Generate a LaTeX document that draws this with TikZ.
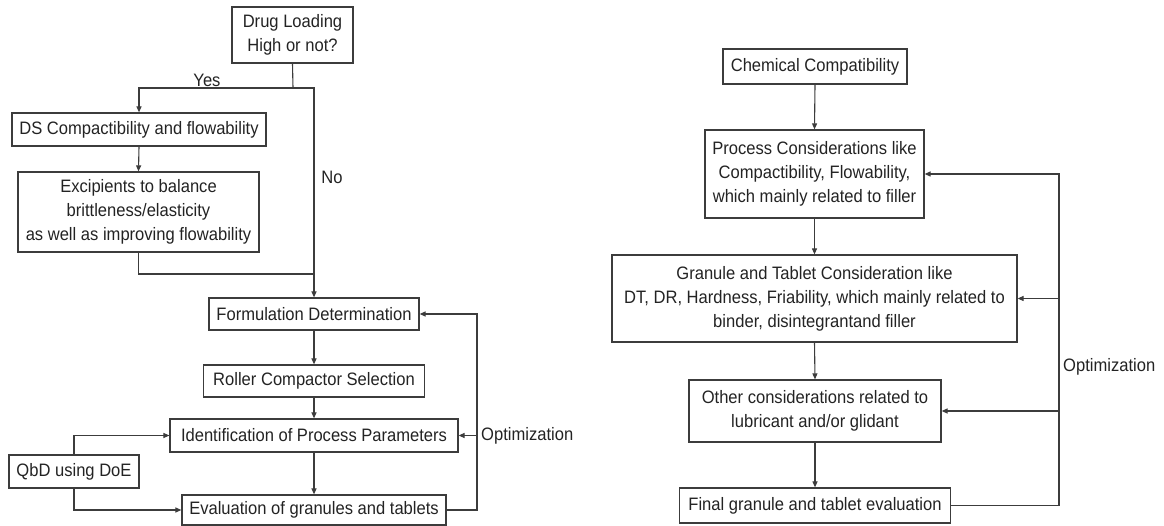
\documentclass[tikz,border=0pt]{standalone}
\usepackage{fontspec}
\setmainfont[FakeStretch=0.92]{Liberation Sans}
\usetikzlibrary{arrows.meta}
\definecolor{linec}{RGB}{60,60,60}
\definecolor{textc}{RGB}{35,35,35}

\begin{document}
\begin{tikzpicture}[x=1pt,y=-1pt,
  box/.style={draw=linec, line width=1.2pt, text=textc, align=center, inner sep=0pt,
              font=\fontsize{18}{24}\selectfont},
  arr/.style={draw=linec, line width=1.1pt, -{Triangle[length=6pt,width=5pt]}},
  ln/.style={draw=linec, line width=1.1pt},
  lbl/.style={text=textc, inner sep=1pt, font=\fontsize{18}{24}\selectfont}]
\useasboundingbox (0,0) rectangle (1164,526);

% ---------------- left flow ----------------
\node[box, minimum width=121pt, minimum height=56pt] (drug)   at (292.5,35)  {Drug Loading\\High or not?};
\node[box, minimum width=254pt, minimum height=33pt] (ds)     at (139,129.5) {DS Compactibility and flowability};
\node[box, minimum width=241pt, minimum height=80pt] (exc)    at (138.5,212) {Excipients to balance\\brittleness/elasticity\\as well as improving flowability};
\node[box, minimum width=210pt, minimum height=32pt] (form)   at (314,314)   {Formulation Determination};
\node[box, minimum width=221pt, minimum height=32pt] (roller) at (314,381)   {Roller Compactor Selection};
\node[box, minimum width=288pt, minimum height=33pt] (ident)  at (314,435.5) {Identification of Process Parameters};
\node[box, minimum width=264pt, minimum height=30pt] (eval)   at (314,510)   {Evaluation of granules and tablets};
\node[box, minimum width=130pt, minimum height=33pt] (qbd)    at (74,471.5)  {QbD using DoE};

\coordinate (split) at (293,88);
\coordinate (merge) at (314,274);
\coordinate (loopL) at (477,510);

\draw[ln]  (drug.south) -- (split);
\draw[arr] (split) -| (ds.north);
\draw[arr] (split) -| (form.north);
\draw[arr] (ds.south) -- (exc.north);
\draw[ln]  (exc.south) |- (merge);
\draw[arr] (form.south) -- (roller.north);
\draw[arr] (roller.south) -- (ident.north);
\draw[arr] (ident.south) -- (eval.north);

\draw[arr] (eval.east) -- (loopL) |- (form.east);
\draw[arr] (loopL |- ident.east) -- (ident.east);
\draw[arr] (qbd.north) |- (ident.west);
\draw[arr] (qbd.south) |- (eval.west);

\node[lbl, anchor=south] (yes) at (207,88) {Yes};
\node[lbl] (no) at (332,177) {No};
\node[lbl, anchor=west] (opt1) at (480,436) {Optimization};

% ---------------- right flow ----------------
\node[box, minimum width=184pt, minimum height=35pt] (chem)  at (815,66.5)  {Chemical Compatibility};
\node[box, minimum width=219pt, minimum height=88pt] (proc)  at (814.5,174) {Process Considerations like\\Compactibility, Flowability,\\which mainly related to filler};
\node[box, minimum width=405pt, minimum height=87pt] (gran)  at (814.5,298.5) {Granule and Tablet Consideration like\\DT, DR, Hardness, Friability, which mainly related to\\binder, disintegrantand filler};
\node[box, minimum width=252pt, minimum height=62pt] (other) at (815,411)   {Other considerations related to\\lubricant and/or glidant};
\node[box, minimum width=271pt, minimum height=35pt] (final) at (815,505.5) {Final granule and tablet evaluation};

\coordinate (loopR) at (1059,505.5);

\draw[arr] (chem.south) -- (proc.north);
\draw[arr] (proc.south) -- (gran.north);
\draw[arr] (gran.south) -- (other.north);
\draw[arr] (other.south) -- (final.north);

\draw[arr] (final.east) -- (loopR) |- (proc.east);
\draw[arr] (loopR |- gran.east) -- (gran.east);
\draw[arr] (loopR |- other.east) -- (other.east);

\node[lbl, anchor=west] (opt2) at (1062,367) {Optimization};
\end{tikzpicture}
\end{document}
